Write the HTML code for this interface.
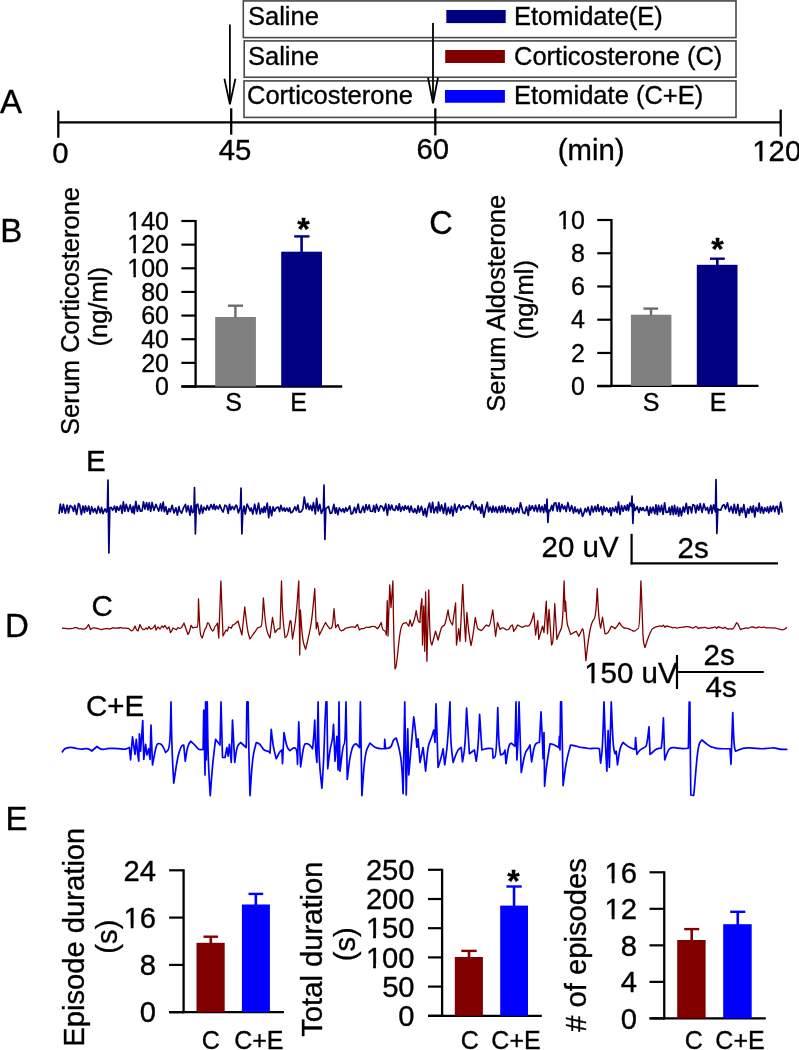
<!DOCTYPE html>
<html><head><meta charset="utf-8"><title>Figure</title>
<style>
html,body{margin:0;padding:0;background:#fff;width:799px;height:1050px;overflow:hidden;}
svg{display:block;will-change:transform;font-family:"Liberation Sans", sans-serif;}
text{stroke:#000;stroke-width:0.35px;}
</style></head><body>
<svg width="799" height="1050" viewBox="0 0 799 1050" font-family='"Liberation Sans", sans-serif' fill="#000">
<rect x="243.3" y="0.9" width="492.7" height="36.7" fill="none" stroke="#484848" stroke-width="1.6"/>
<rect x="244.2" y="40.9" width="491.8" height="36.35" fill="none" stroke="#484848" stroke-width="1.6"/>
<rect x="244" y="80.9" width="492" height="36.5" fill="none" stroke="#484848" stroke-width="1.6"/>
<text x="248" y="24.9" font-size="25.5" text-anchor="start">Saline</text>
<text x="248" y="64.8" font-size="25.5" text-anchor="start">Saline</text>
<text x="247" y="104.4" font-size="25.5" text-anchor="start">Corticosterone</text>
<rect x="446.3" y="10" width="59.4" height="13.1" fill="#000080"/>
<rect x="445.2" y="50" width="59.7" height="13" fill="#800000"/>
<rect x="445" y="90" width="59.9" height="12.75" fill="#0000ff"/>
<text x="514" y="24.9" font-size="25.5" text-anchor="start">Etomidate(E)</text>
<text x="514" y="64.8" font-size="25.5" text-anchor="start">Corticosterone (C)</text>
<text x="514" y="104.4" font-size="25.5" text-anchor="start">Etomidate (C+E)</text>
<line x1="229.9" y1="24.4" x2="229.9" y2="103.4" stroke="#000" stroke-width="1.8"/>
<path d="M224.4 78.7 L229.9 104.4 L235.4 78.7" fill="none" stroke="#000" stroke-width="1.8"/>
<line x1="433" y1="23" x2="433" y2="102.4" stroke="#000" stroke-width="1.8"/>
<path d="M428 77.5 L433 103.4 L438 77.5" fill="none" stroke="#000" stroke-width="1.8"/>
<line x1="58.3" y1="122.4" x2="780.7" y2="122.4" stroke="#000" stroke-width="2.3"/>
<line x1="58.3" y1="110.6" x2="58.3" y2="137.8" stroke="#000" stroke-width="2.3"/>
<line x1="231.2" y1="108.3" x2="231.2" y2="134.7" stroke="#000" stroke-width="2.3"/>
<line x1="435.3" y1="108.3" x2="435.3" y2="135.4" stroke="#000" stroke-width="2.3"/>
<line x1="780.7" y1="109.6" x2="780.7" y2="136.6" stroke="#000" stroke-width="2.3"/>
<text x="60.4" y="162.8" font-size="29.3" text-anchor="middle">0</text>
<text x="235" y="160.3" font-size="29.3" text-anchor="middle">45</text>
<text x="432.7" y="159.1" font-size="29.3" text-anchor="middle">60</text>
<text x="557.8" y="160.2" font-size="29.3" text-anchor="start">(min)</text>
<text x="752.3" y="160.9" font-size="29.3" text-anchor="start">120</text>
<text x="0" y="112.5" font-size="33" text-anchor="start">A</text>
<text x="0.2" y="242.3" font-size="33" text-anchor="start">B</text>
<line x1="195.6" y1="220" x2="195.6" y2="387.5" stroke="#000" stroke-width="2.3"/>
<line x1="181.4" y1="221" x2="195.6" y2="221" stroke="#000" stroke-width="2.2"/>
<text x="169" y="229.7" font-size="25" text-anchor="end">140</text>
<line x1="181.4" y1="244.64" x2="195.6" y2="244.64" stroke="#000" stroke-width="2.2"/>
<text x="169" y="253.34" font-size="25" text-anchor="end">120</text>
<line x1="181.4" y1="268.29" x2="195.6" y2="268.29" stroke="#000" stroke-width="2.2"/>
<text x="169" y="276.99" font-size="25" text-anchor="end">100</text>
<line x1="181.4" y1="291.93" x2="195.6" y2="291.93" stroke="#000" stroke-width="2.2"/>
<text x="169" y="300.63" font-size="25" text-anchor="end">80</text>
<line x1="181.4" y1="315.57" x2="195.6" y2="315.57" stroke="#000" stroke-width="2.2"/>
<text x="169" y="324.27" font-size="25" text-anchor="end">60</text>
<line x1="181.4" y1="339.21" x2="195.6" y2="339.21" stroke="#000" stroke-width="2.2"/>
<text x="169" y="347.91" font-size="25" text-anchor="end">40</text>
<line x1="181.4" y1="362.86" x2="195.6" y2="362.86" stroke="#000" stroke-width="2.2"/>
<text x="169" y="371.56" font-size="25" text-anchor="end">20</text>
<line x1="181.4" y1="386.5" x2="195.6" y2="386.5" stroke="#000" stroke-width="2.2"/>
<text x="169" y="395.2" font-size="25" text-anchor="end">0</text>
<line x1="181.4" y1="386.5" x2="342.2" y2="386.5" stroke="#000" stroke-width="2.3"/>
<rect x="215.2" y="317" width="40.7" height="69.5" fill="#808080"/>
<line x1="235.4" y1="305.7" x2="235.4" y2="318" stroke="#6c6c6c" stroke-width="2.4"/>
<line x1="228" y1="305.7" x2="243" y2="305.7" stroke="#6c6c6c" stroke-width="2.4"/>
<rect x="281.2" y="251.7" width="40.8" height="134.8" fill="#000080"/>
<line x1="301.6" y1="236.4" x2="301.6" y2="252" stroke="#000080" stroke-width="2.6"/>
<line x1="294.2" y1="236.4" x2="309.5" y2="236.4" stroke="#000080" stroke-width="2.4"/>
<text x="303.5" y="240.2" font-size="32" text-anchor="middle" font-weight="bold">*</text>
<text x="233.6" y="410.7" font-size="25" text-anchor="middle">S</text>
<text x="298.7" y="410.7" font-size="25" text-anchor="middle">E</text>
<text transform="translate(79.4 311) rotate(-90)" font-size="25.5" text-anchor="middle">Serum Corticosterone</text>
<text transform="translate(107.2 306.8) rotate(-90)" font-size="25.5" text-anchor="middle">(ng/ml)</text>
<text x="429.2" y="233.8" font-size="32.5" text-anchor="start">C</text>
<line x1="611.45" y1="219" x2="611.45" y2="386.8" stroke="#000" stroke-width="2.3"/>
<line x1="597.25" y1="220" x2="611.45" y2="220" stroke="#000" stroke-width="2.2"/>
<text x="585" y="228.7" font-size="25" text-anchor="end">10</text>
<line x1="597.25" y1="253.24" x2="611.45" y2="253.24" stroke="#000" stroke-width="2.2"/>
<text x="585" y="261.94" font-size="25" text-anchor="end">8</text>
<line x1="597.25" y1="286.48" x2="611.45" y2="286.48" stroke="#000" stroke-width="2.2"/>
<text x="585" y="295.18" font-size="25" text-anchor="end">6</text>
<line x1="597.25" y1="319.72" x2="611.45" y2="319.72" stroke="#000" stroke-width="2.2"/>
<text x="585" y="328.42" font-size="25" text-anchor="end">4</text>
<line x1="597.25" y1="352.96" x2="611.45" y2="352.96" stroke="#000" stroke-width="2.2"/>
<text x="585" y="361.66" font-size="25" text-anchor="end">2</text>
<line x1="597.25" y1="386.2" x2="611.45" y2="386.2" stroke="#000" stroke-width="2.2"/>
<text x="585" y="394.9" font-size="25" text-anchor="end">0</text>
<line x1="597.25" y1="385.9" x2="758.5" y2="385.9" stroke="#000" stroke-width="2.3"/>
<rect x="630.9" y="314.7" width="40.5" height="71.2" fill="#808080"/>
<line x1="651" y1="308.6" x2="651" y2="315.5" stroke="#6c6c6c" stroke-width="2.4"/>
<line x1="643.4" y1="308.6" x2="658.1" y2="308.6" stroke="#6c6c6c" stroke-width="2.4"/>
<rect x="696.8" y="264.8" width="40.7" height="121.1" fill="#000080"/>
<line x1="717.3" y1="258.7" x2="717.3" y2="265.5" stroke="#000080" stroke-width="2.6"/>
<line x1="710" y1="258.7" x2="724.8" y2="258.7" stroke="#000080" stroke-width="2.4"/>
<text x="717.6" y="260.1" font-size="32" text-anchor="middle" font-weight="bold">*</text>
<text x="651.1" y="410.7" font-size="25" text-anchor="middle">S</text>
<text x="718.1" y="410.7" font-size="25" text-anchor="middle">E</text>
<text transform="translate(505 303.2) rotate(-90)" font-size="25.5" text-anchor="middle">Serum Aldosterone</text>
<text transform="translate(533 299.8) rotate(-90)" font-size="25.5" text-anchor="middle">(ng/ml)</text>
<text x="4.9" y="636.8" font-size="33" text-anchor="start">D</text>
<text x="86" y="470.5" font-size="29.5" text-anchor="start">E</text>
<text x="91.5" y="616.2" font-size="29.5" text-anchor="start">C</text>
<text x="86" y="715.5" font-size="29.5" text-anchor="start">C+E</text>
<line x1="631.6" y1="533.8" x2="631.6" y2="564.4" stroke="#000" stroke-width="2.2"/>
<line x1="630.5" y1="563.4" x2="778" y2="563.4" stroke="#000" stroke-width="2.2"/>
<text x="541.5" y="557.2" font-size="29.5" text-anchor="start">20 uV</text>
<text x="677.5" y="557.5" font-size="29.5" text-anchor="start">2s</text>
<line x1="677" y1="655" x2="677" y2="689" stroke="#000" stroke-width="2.2"/>
<line x1="677" y1="672" x2="763.8" y2="672" stroke="#000" stroke-width="2.2"/>
<text x="584.2" y="683" font-size="29.5" text-anchor="start">150 uV</text>
<text x="703.5" y="665" font-size="29.5" text-anchor="start">2s</text>
<text x="705.5" y="697" font-size="29.5" text-anchor="start">4s</text>
<path d="M59.04 513.98 L60.37 504.14 L61.96 512.35 L63.38 504.37 L65.28 513.2 L67.15 505.23 L68.47 512.8 L70.08 505.65 L71.87 506.65 L73.51 511.34 L74.79 505.26 L76.62 514.3 L78.5 503.47 L79.63 504.86 L81.4 514.53 L82.9 506.01 L84.44 512.56 L85.45 505.85 L87.14 511.13 L88.75 506.08 L90.19 514.14 L91.7 506.73 L93.29 512.06 L94.92 508.45 L96.66 513.46 L98.27 506.32 L100.22 512.83 L101.54 507.33 L102.88 513.63 L105.01 508.96 L106.51 512.05 L107.4 508.05 L108 480 L108.9 553 L109.8 507.88 L111.19 507.39 L112.7 510.24 L114.61 506.11 L116.01 512.06 L117.04 506.56 L118.85 510.39 L120.67 505.27 L122.13 513.27 L123.36 501.9 L124.83 511.33 L126.25 504.43 L128.26 511.42 L130.15 504.89 L132.02 512.63 L133.22 506.26 L134.15 513.72 L135.87 501.28 L137.34 511.49 L138.84 505.34 L140.42 511.23 L142.05 510.88 L143.47 501.86 L144.96 509.15 L146.57 502.5 L147.98 509.81 L149.2 502.89 L150.67 511.47 L152.1 502.48 L153.94 510.41 L155.97 504.29 L156.85 506.59 L158.71 511.12 L160.56 503.89 L161.59 510.88 L163.23 502.17 L164.31 511.73 L165.8 506.76 L167.3 514.22 L169.01 508.6 L170.23 511.8 L172.13 505.35 L174.05 513.05 L175.88 507.79 L177.42 515.22 L178.89 506.52 L179.88 510.72 L181.64 513.15 L183.6 507.6 L185.48 504.34 L186.51 511.78 L188.12 505.85 L190.02 515.09 L191.09 505.96 L192.43 512.68 L193.9 511.55 L194.5 487.5 L195.4 534 L196.3 505.44 L197.71 504.07 L199.57 513.95 L201.29 505.21 L202.62 513.13 L204.12 507.23 L206.08 510.09 L207.21 505.47 L209.1 509.88 L211.05 504.58 L212.85 509.03 L214.02 504.26 L215.29 509.72 L216.51 506.08 L218.32 508.93 L219.86 504.93 L221.63 509.59 L223.07 512.11 L224.97 505.13 L226.64 506.18 L228.22 513.42 L229.5 504.28 L230.75 509.81 L232.3 506.41 L234.12 509.66 L235.63 505.42 L236.59 505.37 L238.38 512.87 L240.4 506.48 L241 488 L241.9 534 L242.8 512.66 L244.08 506.15 L245.25 514.14 L247.07 504.12 L248.44 506.82 L250.12 510.86 L251.28 507.93 L252.78 514.17 L254.66 504.23 L256.56 513.88 L258.56 503.03 L260.13 513.98 L261.75 508.26 L263.08 512.55 L264.18 506.62 L265.23 512.13 L267.29 503 L268.68 517.56 L270.06 506.65 L271.7 515.74 L273.04 506.77 L274.6 511.18 L276.43 507.65 L278.23 507.17 L279.6 511.55 L280.9 505.26 L282.54 510.74 L284.18 507.98 L285.2 511.25 L286.85 508.09 L288.42 511.37 L289.71 507.88 L290.84 512.83 L292.71 511.68 L294.85 506.77 L296.4 510.57 L297.93 505.03 L299.14 512.17 L301.23 511.67 L302.9 508.73 L304.28 497.19 L306.22 508.71 L307.69 503.37 L309.14 509.67 L310.59 505.45 L312.03 510.64 L313.46 502.55 L315.36 514.01 L316.63 498.29 L318.19 511.01 L319.81 504.34 L321.4 513.48 L322.45 510.95 L323.4 508.27 L324 485 L324.9 539.5 L325.8 508.56 L327.1 507.66 L328.55 506.52 L330.32 513.44 L331.94 512.62 L333.89 504.42 L335.31 513.18 L336.43 507.76 L337.82 514.7 L339.35 507.86 L341.49 511.52 L343.02 508.61 L344.34 512.45 L345.8 507.69 L347.11 511.12 L348.45 508.72 L349.7 505.99 L351.21 514.04 L352.67 513.54 L354.47 507.25 L356.07 512.77 L358.22 504.02 L359.55 512.24 L360.79 512.6 L363.02 506.4 L364.47 512.35 L365.95 504.59 L367.49 509.94 L369.19 504.94 L370.53 511.26 L372.64 511.39 L373.72 505.61 L375.14 512.25 L376.46 504.44 L378.59 511.13 L380.46 505.82 L382.17 506.43 L383.93 510.86 L385.73 503.93 L387.39 515.1 L388.73 504.66 L390.21 509.87 L391.71 505.11 L393.06 509.79 L394.81 510.46 L396.34 505.72 L398.06 510.16 L399.32 503.72 L400.68 511.34 L402.47 506.62 L404.03 510.28 L405.05 505.57 L406.67 509.17 L408.19 506.2 L409.53 512.13 L411.12 506.09 L412.47 511.25 L413.77 512.3 L414.71 508.54 L416.68 513.37 L418.15 505.74 L419.44 512.11 L421.51 506.39 L423.5 515.21 L425.03 508.5 L426.51 516.74 L427.79 508.56 L429.51 503.04 L430.92 512.35 L432.64 502.26 L434 512.9 L436.03 506.76 L437.46 512.82 L438.5 502.11 L440.01 510.97 L441.58 504.98 L443.53 513.18 L445.18 503.28 L446.49 514.72 L448.31 507.44 L449.94 513.46 L451.43 506.3 L452.92 515.81 L454.73 504.14 L456.4 512.18 L458.07 506.85 L459.35 504.81 L460.96 510.24 L462.68 505.84 L464.35 508.2 L466.14 506.1 L467.78 505.79 L469.8 508.87 L471.11 504.15 L472.72 501.49 L474 509.71 L475.72 504.48 L477.78 509.85 L479.41 507.02 L480.93 513.19 L481.91 504.81 L483.89 517.07 L485.85 507.71 L487.33 502.37 L488.58 511.86 L490.1 507.12 L491.95 512.29 L492.93 506.1 L494.52 511.8 L495.84 507.02 L497.34 512.67 L499.15 506.4 L500.56 512.28 L501.81 505.91 L502.91 511.8 L504.74 505.5 L506.08 512.6 L507.94 507.41 L509.37 512.12 L510.81 507.57 L512.63 513.99 L514.05 508.35 L515.8 512.44 L517.2 507.75 L518.84 512.73 L520.46 502.72 L521.87 508.33 L523.04 512.77 L524.75 513.56 L526.45 506.92 L528.29 515.44 L529.42 505.35 L530.45 510.12 L532.29 505.84 L534.2 511.07 L535.57 505.31 L537.28 511.74 L539.11 504.93 L540.42 511.86 L541.97 506.34 L543.62 512.53 L544.77 504.67 L546.4 511.89 L547 499 L547.9 522.5 L548.8 510.09 L550.05 510.94 L551.82 505.28 L552.87 510.6 L554.25 503.23 L555.76 502.72 L557.32 511.09 L558.96 502.83 L560.14 511.57 L561.82 504.34 L563.49 509.03 L564.74 506.07 L566.17 511.62 L567.89 502.63 L569.83 511.18 L571.68 505.62 L573.54 513.17 L574.92 506.96 L576.03 511.92 L577.77 509.13 L578.82 513.7 L580.62 508.43 L582.54 516.47 L583.87 513.15 L585.16 508.48 L586.51 511.92 L588.08 507.07 L590.08 514.93 L591.72 506.16 L593.23 512.06 L595.05 506.26 L596.34 511.47 L597.91 504.59 L599.07 511.39 L601.13 506.74 L602.57 514.69 L603.75 506.33 L605.33 511.46 L606.72 507.89 L608.52 512.18 L610.09 508 L610.94 515.73 L612.56 507.72 L614.44 511.42 L615.68 506.67 L617.12 512.55 L618.49 502.11 L620 514.42 L621.52 505.63 L623.15 511.2 L624.63 505.83 L626.22 510.32 L627.4 504.78 L628.56 510.72 L629.8 502.97 L631.4 506.26 L632 496 L632.9 523.5 L633.8 504.21 L635.13 510.48 L637.15 506.58 L638.95 512.52 L640.27 507.47 L641.73 510.25 L643.05 507.61 L644.38 510.72 L645.94 510.53 L646.98 506.29 L648.98 515.25 L650.31 507.23 L651.47 512.8 L653 507.12 L654.84 513.72 L655.95 504.83 L657.36 514.66 L658.49 505.34 L660.14 511.91 L661.57 505.41 L663.07 514.44 L664.59 502.93 L666.11 512.51 L668.02 512.1 L669.27 507.33 L670.39 514.56 L671.96 506.04 L673.34 514.59 L674.55 505.3 L675.88 514.14 L677.56 507.04 L678.64 516.2 L680 508.08 L681.43 515.94 L683.17 506.79 L684.47 512.13 L686.32 503.26 L687.98 513.96 L688.93 506.81 L690.28 506.87 L691.58 512.87 L692.87 504.66 L694.61 505.53 L695.82 512.96 L697.27 505.13 L698.83 510.2 L700.18 503.64 L702.06 512.34 L703.87 503.75 L705.78 510.16 L707.48 507.47 L708.6 513.4 L710.89 505.27 L711.92 513.28 L713.6 504.79 L715.4 511.87 L716 479.5 L716.9 533.5 L717.8 508.94 L719.4 510.01 L720.7 510.1 L722.7 505.43 L724.11 504.72 L725.47 509.06 L727.45 502.93 L729.3 511.64 L731.11 506.5 L732.99 513.02 L734.21 504.3 L736.1 513.2 L737.83 504.46 L739.51 515.4 L741.01 507.91 L742.41 512.62 L743.82 504.71 L745.89 517.27 L747.66 508.56 L748.92 513.29 L750.52 506.54 L752.03 512.44 L753.32 505.88 L754.77 516.98 L756.06 507.48 L757.83 511.47 L759.11 503.01 L760.44 512.8 L761.91 506.98 L763.49 513.35 L764.75 507.95 L766.44 511.43 L767.47 506.98 L768.75 512.8 L770.37 506.25 L771.31 511.51 L773.3 505.97 L774.83 511.74 L776.01 506.71 L777.25 506.28 L778.78 514.1 L780.66 502.03 L782.31 512.57" fill="none" stroke="#000080" stroke-width="1.7" stroke-linejoin="round"/>
<path d="M62 628 L63 628.22 Q64 628.45 65 628.42 L65 628.42 Q66 628.4 67 628.67 L67 628.67 Q68 628.93 69 628.72 L69 628.72 Q70 628.5 71 628.62 L71 628.62 Q72 628.74 73 628.27 L73 628.27 Q74 627.8 75.5 627.65 L75.5 627.65 Q77 627.5 78 628.22 L78 628.22 Q79 628.93 80 628.77 L80 628.77 Q81 628.6 82 628.94 L82 628.94 Q83 629.28 84 629.14 L84 629.14 Q85 629 85.88 628.3 L85.88 628.3 Q86.75 627.59 87.62 626.05 L88.5 624.5 L90.5 629.5 L91.62 628.65 Q92.75 627.81 93.88 627.9 L93.88 627.9 Q95 628 96 628.17 L96 628.17 Q97 628.33 98 628.57 L98 628.57 Q99 628.8 100 629.29 L100 629.29 Q101 629.79 102 629.39 L102 629.39 Q103 629 104 628.97 L104 628.97 Q105 628.95 106 628.62 L106 628.62 Q107 628.3 108 628.75 L108 628.75 Q109 629.2 110 628.85 L110 628.85 Q111 628.5 112 628.04 L112 628.04 Q113 627.58 114 627.89 L114 627.89 Q115 628.2 116 628.12 L116 628.12 Q117 628.04 118 628.02 L118 628.02 Q119 628 120 627.75 L120 627.75 Q121 627.49 122 627.79 L122 627.79 Q123 628.09 124 628.04 L124 628.04 Q125 628 126 628.2 L126 628.2 Q127 628.4 128 628.45 L128 628.45 Q129 628.5 129.75 629.43 L129.75 629.43 Q130.5 630.37 131.25 630.68 L131.25 630.68 Q132 631 132.75 630.2 L132.75 630.2 Q133.5 629.4 134.25 627.7 L135 626 L135.75 628 Q136.5 630 137.25 630.5 L138 631 L140 624.5 L140.75 626.25 Q141.5 628 142.25 628.75 L142.25 628.75 Q143 629.5 143.75 629.62 L143.75 629.62 Q144.5 629.74 145.25 628.87 L146 628 L147.5 629.13 L149 626.5 L150.5 629.17 L151.25 628.84 Q152 628.5 152.75 628.04 L152.75 628.04 Q153.5 627.57 154.25 626.29 L155 625 L156 630 L158 627 L160 629 L162 626 L163.5 627.47 L165 625.5 L167 629 L169 627 L170.5 632.5 L171.12 631.77 Q171.75 631.04 172.38 629.52 L173 628 L174 628.5 Q175 629 175.75 629.36 L176.5 629.71 L178 627.5 L178.75 628.01 Q179.5 628.53 180.25 628.26 L180.25 628.26 Q181 628 181.75 627.05 L181.75 627.05 Q182.5 626.1 183.25 624.55 L184 623 L185 626 Q186 629 187 631.75 L188 634.5 L188.75 633.16 Q189.5 631.82 190.25 628.66 L191 625.5 L193 628 L194 627.5 Q195 627 195.75 627.32 L195.75 627.32 Q196.5 627.64 197.25 627.07 L197.25 627.07 Q198 626.5 198.25 612.75 L198.5 599 L199.25 616.7 Q200 634.4 201.12 636.2 L202.25 638 L203.62 633.38 Q205 628.75 205.62 628.24 L205.62 628.24 Q206.25 627.74 206.88 625.34 L207.5 622.94 L208.12 622.97 Q208.75 623 209.62 625.5 L209.62 625.5 Q210.5 628 211.5 629.5 L212.5 631 L213.12 630.66 Q213.75 630.32 214.38 628.16 L214.38 628.16 Q215 626 215.62 625.75 L215.62 625.75 Q216.25 625.51 216.88 624.25 L217.5 623 L218.75 638 L220.9 581 L223 636 L226 630 L227.33 631.11 L228.67 626.98 L229.33 627.24 Q230 627.5 230.67 627.86 L231.33 628.22 L232.67 624.95 L233.33 624.97 Q234 625 236 623 L238 621 L241.9 635 L244.75 607 L246.12 619 Q247.5 631 248.75 635 L250 639 L252 636 Q254 633 254.88 632.07 L254.88 632.07 Q255.75 631.13 256.62 629.32 L256.62 629.32 Q257.5 627.5 258.62 627.32 L258.62 627.32 Q259.75 627.13 260.88 626.57 L260.88 626.57 Q262 626 262.7 612 L263.4 598 L264.7 614 Q266 630 268 634 L270 638 L272.5 617.5 L275 632.5 L276.5 630.5 Q278 628.5 279 628.62 L280 628.75 L281.5 581 L282 598 Q282.5 615 283.75 626.25 L285 637.5 L286.25 636.75 Q287.5 636 288.75 628.5 L290 621 L291 621 L292.5 639 L294.25 629 Q296 619 297.38 600 L298.75 581 L299.75 655 L300.4 610 L301.45 625 Q302.5 640 304.05 644.7 L305.6 649.4 L307.8 640.2 Q310 631 311.12 623.5 L311.12 623.5 Q312.25 616 313.5 602.38 L314.75 588.75 L316.25 628.75 L317.5 622.5 L319.4 635 L321.2 631.25 Q323 627.5 324.3 625 L325.6 622.5 L326.55 624.25 Q327.5 626 328.75 627.38 L330 628.75 L331.25 628.12 Q332.5 627.5 333.25 618.12 L334 608.75 L335.6 627.5 L338 624.4 L339 627.5 Q340 630.6 340.94 630.71 L340.94 630.71 Q341.88 630.82 342.81 630.39 L342.81 630.39 Q343.75 629.96 344.69 629.01 L344.69 629.01 Q345.62 628.06 346.56 627.91 L346.56 627.91 Q347.5 627.75 348.44 627.58 L348.44 627.58 Q349.38 627.41 350.31 627.18 L350.31 627.18 Q351.25 626.96 352.19 626.91 L352.19 626.91 Q353.12 626.85 354.06 627.18 L355 627.5 L357.5 624.4 L359.4 630 L360.21 629.32 Q361.02 628.63 361.83 628.62 L361.83 628.62 Q362.64 628.6 363.45 628.65 L363.45 628.65 Q364.26 628.71 365.07 627.86 L365.07 627.86 Q365.88 627.01 366.69 627.25 L366.69 627.25 Q367.5 627.5 368.54 627.47 L368.54 627.47 Q369.58 627.44 370.62 626.89 L370.62 626.89 Q371.67 626.34 372.71 626.3 L372.71 626.3 Q373.75 626.25 374.69 626.68 L374.69 626.68 Q375.62 627.12 376.56 627.93 L377.5 628.75 L378.44 627.51 Q379.38 626.26 380.31 624.38 L381.25 622.5 L381.88 626.25 Q382.5 630 384.05 630.5 L384.05 630.5 Q385.6 631 385.93 633 L386.25 635 L387.25 600.6 L388 636 L389.75 585 L391 607.5 L392.9 581 L393.32 609.25 Q393.75 637.5 394.38 653.12 L395 668.75 L395.62 668.12 Q396.25 667.5 398.12 649.25 L398.12 649.25 Q400 631 401.25 627.38 L401.25 627.38 Q402.5 623.75 403.44 623.42 L403.44 623.42 Q404.38 623.09 405.31 622.79 L406.25 622.5 L408.75 626.25 L410 620 L411.9 626.25 L413.15 623.12 Q414.4 620 415.32 615.3 L416.25 610.6 L417.12 615.92 Q418 621.25 419 621.88 L420 622.5 L420.3 615 Q420.6 607.5 421.25 603.12 L421.9 598.75 L422.5 645 L423.75 606 L424.75 651.25 L425.6 591.9 L426.9 661.25 L428.75 590 L429.38 615 Q430 640 430.95 642.5 L431.9 645 L435.6 631.25 L438.1 640 L439.68 633.75 Q441.25 627.5 442.19 626.69 L442.19 626.69 Q443.12 625.88 444.06 625.44 L444.06 625.44 Q445 625 446.55 617.5 L448.1 610 L448.75 615 Q449.4 620 450.95 622.5 L452.5 625 L455.6 603 L456.5 645 L458.75 628.75 L460 641.25 L462.75 584.4 L463.57 603.45 Q464.4 622.5 465 631.88 L465.6 641.25 L466.9 612.5 L467.82 622.5 Q468.75 632.5 469.88 639.05 L471 645.6 L472.05 640.3 Q473.1 635 474.18 626.25 L475.25 617.5 L476.38 623.12 Q477.5 628.75 478.44 629.19 L478.44 629.19 Q479.38 629.64 480.31 630.12 L481.25 630.6 L482.19 629.72 Q483.12 628.83 484.06 627.54 L484.06 627.54 Q485 626.25 485.83 625.6 L486.67 624.95 L488.33 626.37 L489.17 625.68 Q490 625 491.38 617.5 L492.75 610 L495.6 636.25 L497.5 622.5 L500 629.4 L500.94 628.6 Q501.88 627.8 502.81 627.95 L502.81 627.95 Q503.75 628.1 504.69 628.82 L504.69 628.82 Q505.62 629.55 506.56 629.77 L506.56 629.77 Q507.5 630 508.33 629.51 L508.33 629.51 Q509.17 629.02 510 627.36 L510 627.36 Q510.83 625.7 511.67 625.35 L512.5 625 L513.75 631.25 L514.69 629.98 Q515.62 628.7 516.56 626.85 L517.5 625 L518.33 625.28 Q519.17 625.57 520 626.19 L520 626.19 Q520.83 626.82 521.67 627.16 L521.67 627.16 Q522.5 627.5 523.54 626.8 L523.54 626.8 Q524.58 626.1 525.62 625.93 L525.62 625.93 Q526.67 625.76 527.71 626.01 L527.71 626.01 Q528.75 626.25 530 624.38 L530 624.38 Q531.25 622.5 532.5 617.75 L533.75 613 L535.6 635 L537.75 620.6 L538.75 639.4 L542.5 626.25 L544 632.5 L546.25 601.25 L547.5 633.75 L549 609.4 L551.5 645 L552.3 643.75 Q553.1 642.5 553.92 623.12 L554.75 603.75 L556.9 639.4 L558.15 635.95 Q559.4 632.5 560.95 629.38 L560.95 629.38 Q562.5 626.25 563.3 603.62 L564.1 581 L565 611.25 L565.6 601.25 L566.25 612.5 Q566.9 623.75 567.83 626.09 L567.83 626.09 Q568.75 628.44 569.67 631.42 L570.6 634.4 L572.17 633.45 Q573.75 632.5 575 631.88 L576.25 631.25 L578.75 636.25 L582.5 628.75 L583.12 630 Q583.75 631.25 584.83 645.92 L585.9 660.6 L587.33 648.42 Q588.75 636.25 590.33 628.75 L590.33 628.75 Q591.9 621.25 593.75 619.67 L593.75 619.67 Q595.6 618.1 596.42 603.3 L597.25 588.5 L598 603 Q598.75 617.5 599.67 622.8 L600.6 628.1 L602.5 617.25 L605 633.75 L605.94 633.74 Q606.88 633.74 607.81 632.82 L607.81 632.82 Q608.75 631.9 610 629.08 L611.25 626.25 L612.19 626.57 Q613.12 626.89 614.06 627.82 L615 628.75 L616.1 627.44 Q617.2 626.14 618.3 624.32 L619.4 622.5 L620.23 623.86 Q621.07 625.23 621.9 626.17 L621.9 626.17 Q622.73 627.12 623.57 627.61 L623.57 627.61 Q624.4 628.1 625.33 628.16 L625.33 628.16 Q626.27 628.22 627.2 628.45 L627.2 628.45 Q628.13 628.68 629.07 629.04 L629.07 629.04 Q630 629.4 630.83 629.73 L630.83 629.73 Q631.67 630.07 632.5 630.63 L632.5 630.63 Q633.33 631.18 634.17 631.22 L634.17 631.22 Q635 631.25 636.1 630.07 L636.1 630.07 Q637.2 628.89 638.3 628.5 L638.3 628.5 Q639.4 628.1 640.15 604.55 L640.9 581 L641.58 596.75 Q642.25 612.5 642.67 626.88 L642.67 626.88 Q643.1 641.25 644.05 644.38 L645 647.5 L646.5 642.75 Q648 638 650 633.35 L650 633.35 Q652 628.7 653 628.4 L653 628.4 Q654 628.1 655 627.3 L655 627.3 Q656 626.5 657 626.6 L657 626.6 Q658 626.69 659 626.2 L659 626.2 Q660 625.7 660.83 626.17 L660.83 626.17 Q661.67 626.64 662.5 625.92 L663.33 625.21 L665 627.24 L665.83 626.5 Q666.67 625.75 667.5 626.11 L667.5 626.11 Q668.33 626.46 669.17 626.73 L669.17 626.73 Q670 627 670.83 627.17 L670.83 627.17 Q671.67 627.34 672.5 627.7 L672.5 627.7 Q673.33 628.07 674.17 627.55 L674.17 627.55 Q675 627.03 675.83 627.67 L675.83 627.67 Q676.67 628.32 677.5 627.99 L677.5 627.99 Q678.33 627.67 679.17 627.69 L679.17 627.69 Q680 627.7 680.83 627.47 L680.83 627.47 Q681.67 627.24 682.5 627.2 L682.5 627.2 Q683.33 627.17 684.17 626.99 L684.17 626.99 Q685 626.8 685.83 626.66 L685.83 626.66 Q686.67 626.52 687.5 626.55 L687.5 626.55 Q688.33 626.58 689.17 626.89 L689.17 626.89 Q690 627.2 690.83 627.43 L690.83 627.43 Q691.67 627.66 692.5 628.01 L692.5 628.01 Q693.33 628.36 694.17 627.57 L694.17 627.57 Q695 626.77 695.83 626.7 L695.83 626.7 Q696.67 626.63 697.5 627.61 L698.33 628.59 L699.17 628.15 Q700 627.7 700.83 627.76 L700.83 627.76 Q701.67 627.82 702.5 627.71 L702.5 627.71 Q703.33 627.61 704.17 627.47 L704.17 627.47 Q705 627.32 705.83 627.71 L705.83 627.71 Q706.67 628.09 707.5 628.35 L707.5 628.35 Q708.33 628.6 709.17 628.3 L709.17 628.3 Q710 628 710.83 627.91 L710.83 627.91 Q711.67 627.83 712.5 627.75 L712.5 627.75 Q713.33 627.68 714.17 627.27 L715 626.86 L716.67 628.5 L718.33 626.65 L719.17 627.07 Q720 627.5 720.84 627.57 L720.84 627.57 Q721.69 627.64 722.53 628.06 L722.53 628.06 Q723.38 628.48 724.22 627.84 L725.06 627.21 L725.91 627.89 Q726.75 628.56 727.59 628.86 L727.59 628.86 Q728.44 629.15 729.28 628.91 L729.28 628.91 Q730.12 628.66 730.97 628.89 L730.97 628.89 Q731.81 629.13 732.66 628.91 L732.66 628.91 Q733.5 628.7 735 625.7 L736.5 622.7 L737.25 623.35 Q738 624 739.25 626.85 L740.5 629.7 L741.45 629.09 Q742.4 628.47 743.35 628.58 L743.35 628.58 Q744.3 628.69 745.25 628.18 L745.25 628.18 Q746.2 627.68 747.15 628.15 L747.15 628.15 Q748.1 628.63 749.05 628.06 L749.05 628.06 Q750 627.5 750.94 627.21 L750.94 627.21 Q751.88 626.93 752.82 627.01 L752.82 627.01 Q753.76 627.09 754.7 627.55 L754.7 627.55 Q755.64 628.02 756.58 627.79 L756.58 627.79 Q757.52 627.56 758.46 627.13 L758.46 627.13 Q759.4 626.7 760.28 627.28 L760.28 627.28 Q761.17 627.87 762.05 627.45 L762.05 627.45 Q762.93 627.04 763.82 627.18 L763.82 627.18 Q764.7 627.33 765.58 627.68 L765.58 627.68 Q766.47 628.03 767.35 627.88 L767.35 627.88 Q768.23 627.74 769.12 627.87 L769.12 627.87 Q770 628 770.91 627.88 L770.91 627.88 Q771.83 627.76 772.74 627.96 L772.74 627.96 Q773.65 628.16 774.56 627.99 L774.56 627.99 Q775.47 627.82 776.39 628.26 L776.39 628.26 Q777.3 628.7 778.3 628.83 L778.3 628.83 Q779.3 628.95 780.3 629.33 L780.3 629.33 Q781.3 629.7 782.23 629.79 L782.23 629.79 Q783.17 629.88 784.1 629.45 L784.1 629.45 Q785.03 629.02 785.97 628.16 L786.9 627.3" fill="none" stroke="#800000" stroke-width="1.3" stroke-linejoin="round"/>
<path d="M62 752.5 L63.25 750.5 Q64.5 748.5 67.25 747.85 L67.25 747.85 Q70 747.2 72.5 747.6 L72.5 747.6 Q75 748 78 748.75 L78 748.75 Q81 749.5 83.5 748.85 L83.5 748.85 Q86 748.2 88 748.85 L88 748.85 Q90 749.5 90.9 750.25 L91.8 751 L97 746.5 L99.25 748.25 Q101.5 750 104.25 749.25 L104.25 749.25 Q107 748.5 111 748.35 L111 748.35 Q115 748.2 118 748.6 L118 748.6 Q121 749 123 749.2 L123 749.2 Q125 749.4 127.2 748.45 L129.4 747.5 L130.6 760 L132.5 736.9 L135 754.4 L136.25 739.4 L136.88 745.95 Q137.5 752.5 138.12 756.88 L138.75 761.25 L139.4 733.75 L140.6 751.25 L142.75 720.6 L143.75 759.4 L145.6 744.4 L146.9 755 L148.75 748.75 L150 759.4 L151 725 L152.5 765 L154.38 755 Q156.25 745 157.5 744 L157.5 744 Q158.75 743 160.62 744 L160.62 744 Q162.5 745 164.05 748.75 L165.6 752.5 L167.8 750.3 Q170 748.1 170.5 725 L171 701.9 L171.45 725.33 Q171.9 748.75 172.82 765.92 L173.75 783.1 L175.62 770.3 Q177.5 757.5 179.38 751.55 L179.38 751.55 Q181.25 745.6 182.5 745.3 L183.75 745 L185.25 761.25 L186.38 753.75 Q187.5 746.25 189.05 743.75 L190.6 741.25 L192.8 743.12 Q195 745 196.88 747.5 L196.88 747.5 Q198.75 750 200.93 749.7 L203.1 749.4 L203.75 710 L205 775 L205.6 701.9 L206.25 760 L207.25 701.9 L207.68 730.95 Q208.1 760 209.18 777.8 L210.25 795.6 L211.38 780.3 Q212.5 765 214.05 752.2 L215.6 739.4 L220 745 L221 701.9 L222.5 757.5 L225 757.5 L226.9 747.5 L228.1 756.25 L229.4 744.4 L231.25 762.5 L232.5 720 L233.12 731.88 Q233.75 743.75 234.25 753.12 L234.75 762.5 L235.82 754.38 Q236.9 746.25 238.75 744.38 L240.6 742.5 L246.25 747.5 L246.9 701.9 L248.1 701.9 L248.43 724.08 Q248.75 746.25 249.38 770.92 L250 795.6 L251.25 776.55 Q252.5 757.5 254.38 750 L256.25 742.5 L258.12 743.12 Q260 743.75 261.88 747.17 L261.88 747.17 Q263.75 750.6 266.25 750.92 L266.25 750.92 Q268.75 751.25 269.38 752.17 L270 753.1 L271.25 729.4 L272.18 737.83 Q273.1 746.25 274.68 752.5 L276.25 758.75 L278.12 755 Q280 751.25 280.95 750.62 L281.9 750 L282.5 763.75 L284 732.5 L285.45 740 Q286.9 747.5 288.45 749.05 L290 750.6 L291.88 749.05 Q293.75 747.5 295.32 748.12 L295.32 748.12 Q296.9 748.75 297.2 756.58 L297.5 764.4 L298.75 721.9 L300.6 766.9 L302.18 755.95 Q303.75 745 305 744.05 L305 744.05 Q306.25 743.1 308.12 744.05 L308.12 744.05 Q310 745 311.25 746.88 L312.5 748.75 L313.12 743.12 Q313.75 737.5 314.25 728.75 L314.75 720 L315.18 735 Q315.6 750 316.25 756.25 L316.9 762.5 L318.1 701.9 L318.55 730.95 Q319 760 320.45 774.05 L321.9 788.1 L322.82 774.05 Q323.75 760 324.38 740 L324.38 740 Q325 720 325.5 710.95 L326 701.9 L326.9 701.9 L327.75 768.75 L328.88 758.75 Q330 748.75 331.25 744.38 L331.25 744.38 Q332.5 740 333 732.2 L333.5 724.4 L335 761.25 L336.9 736.25 L338.1 770 L339 701.9 L340 771.25 L341.55 758.12 Q343.1 745 344.05 744.38 L344.05 744.38 Q345 743.75 345.5 722.83 L346 701.9 L347.25 779.4 L348.62 767.83 Q350 756.25 351.55 750.62 L351.55 750.62 Q353.1 745 354.68 744.38 L356.25 743.75 L359.4 747.5 L360.4 701.9 L361.9 795.6 L363.45 774.05 Q365 752.5 367.5 747.8 L370 743.1 L372.5 745.3 Q375 747.5 377.5 748.12 L377.5 748.12 Q380 748.75 382.2 748.75 L384.4 748.75 L384.75 739.4 L385.6 748.75 L388.43 748.12 Q391.25 747.5 392.18 743.75 L392.18 743.75 Q393.1 740 394.68 739.05 L396.25 738.1 L397.82 743.42 Q399.4 748.75 400.65 756.88 L400.65 756.88 Q401.9 765 402.5 779.38 L403.1 793.75 L404.75 701.9 L406.25 795 L407.75 728.75 L408.75 775 L413.75 716.9 L414.68 724.08 Q415.6 731.25 416.25 739.38 L416.9 747.5 L418.1 738.75 L420 762.5 L423.1 747.5 L425.6 771.25 L426.85 758.12 Q428.1 745 429.68 741.88 L429.68 741.88 Q431.25 738.75 432.5 734.38 L433.75 730 L435 742.5 L436 703.75 L438.1 767.5 L439.68 762.5 Q441.25 757.5 442.18 753.12 L443.1 748.75 L444.75 765 L446.12 755 Q447.5 745 448.75 723.45 L450 701.9 L450.3 721.58 Q450.6 741.25 451.85 751.88 L453.1 762.5 L455.3 756.25 Q457.5 750 459.38 748.75 L461.25 747.5 L462.5 761.9 L463.75 754.7 Q465 747.5 465.8 727.8 L466.6 708.1 L469.4 753.75 L474.4 750 L476.25 761.25 L477.18 754.38 Q478.1 747.5 478.85 730.95 L479.6 714.4 L481.9 750 L484.7 749.05 Q487.5 748.1 490 748.42 L492.5 748.75 L493.1 758.1 L494.68 757.17 Q496.25 756.25 497 731.88 L497.75 707.5 L498.25 725 Q498.75 742.5 499.68 748.75 L500.6 755 L502.18 754.38 Q503.75 753.75 504.38 751.88 L505 750 L506 763.75 L507.38 754.38 Q508.75 745 510 744.05 L511.25 743.1 L515 746.25 L516 701.9 L516.9 760 L517.5 750 Q518.1 740 518.55 720.95 L519 701.9 L521.25 772.5 L523.12 762.5 Q525 752.5 526.55 750.62 L526.55 750.62 Q528.1 748.75 529.05 746.88 L530 745 L531.6 761.9 L533 753.45 Q534.4 745 535.95 743.75 L535.95 743.75 Q537.5 742.5 538.45 742.5 L539.4 742.5 L541 711.9 L541.75 727.2 Q542.5 742.5 542.8 750.62 L543.1 758.75 L544 732.5 L544.6 786.25 L545.42 776.88 Q546.25 767.5 548.12 755.62 L550 743.75 L551.88 744.08 Q553.75 744.4 556.25 745.95 L558.75 747.5 L559.4 736.25 L560 750 L560.6 701.9 L561.5 701.9 L563.1 785.6 L564.67 773.42 Q566.25 761.25 568.42 753.12 L570.6 745 L572.8 745.3 Q575 745.6 577.5 746.55 L577.5 746.55 Q580 747.5 582.5 747.62 L582.5 747.62 Q585 747.75 587.5 748.25 L587.5 748.25 Q590 748.75 593.12 748.42 L593.12 748.42 Q596.25 748.1 597.83 748.42 L599.4 748.75 L600.6 763.1 L601.55 755.92 Q602.5 748.75 603.25 725.33 L604 701.9 L604.8 725.33 Q605.6 748.75 606.25 760 L606.9 771.25 L608.1 730.6 L609.4 767.5 L611.25 701.9 L612.17 724.08 Q613.1 746.25 614.05 750 L615 753.75 L616.25 751.25 L617.5 765 L618.75 756.25 Q620 747.5 621.55 745 L623.1 742.5 L625.3 744.38 Q627.5 746.25 630 747.5 L630 747.5 Q632.5 748.75 633.75 749.08 L635 749.4 L635.6 737.5 L636.9 754.4 L638.45 751.9 Q640 749.4 642.5 748.45 L642.5 748.45 Q645 747.5 645.95 746.25 L645.95 746.25 Q646.9 745 647.95 735.95 L649 726.9 L650 754.4 L651.25 753.45 Q652.5 752.5 654.38 750.62 L654.38 750.62 Q656.25 748.75 658.75 748.42 L661.25 748.1 L661.75 744.05 Q662.25 740 662.83 728.88 L663.4 717.75 L664.75 760 L666.42 755 Q668.1 750 669.67 748.62 L669.67 748.62 Q671.25 747.25 674.38 747.67 L674.38 747.67 Q677.5 748.1 680.62 748.42 L680.62 748.42 Q683.75 748.75 686.08 748.48 L688.4 748.2 L689.2 702 L689.9 702 L690.1 727 Q690.3 752 690.55 773.5 L690.8 795 L693.6 795.5 L694.1 791.25 Q694.6 787 695.55 774.5 L695.55 774.5 Q696.5 762 697.62 752.88 L697.62 752.88 Q698.75 743.75 700.33 741.88 L701.9 740 L703.45 741.25 Q705 742.5 707.5 744.7 L707.5 744.7 Q710 746.9 711.88 747.2 L711.88 747.2 Q713.75 747.5 715.62 748.12 L715.62 748.12 Q717.5 748.75 723.75 748.75 L730 748.75 L731 764.4 L732.75 712.5 L733.38 729.38 Q734 746.25 734.8 748.75 L735.6 751.25 L739.05 749.67 Q742.5 748.1 747.5 747.92 L747.5 747.92 Q752.5 747.75 756.88 748.38 L756.88 748.38 Q761.25 749 764.62 748.6 L764.62 748.6 Q768 748.2 771.5 747.98 L771.5 747.98 Q775 747.75 777.5 748.58 L777.5 748.58 Q780 749.4 783.7 749.4 L787.4 749.4" fill="none" stroke="#0000ff" stroke-width="1.7" stroke-linejoin="round"/>
<text x="5.5" y="830.2" font-size="33" text-anchor="start">E</text>
<line x1="183.6" y1="869.3" x2="183.6" y2="1013.2" stroke="#000" stroke-width="2.3"/>
<line x1="169.1" y1="870.3" x2="183.6" y2="870.3" stroke="#000" stroke-width="2.2"/>
<text x="156" y="880.5" font-size="29.2" text-anchor="end">24</text>
<line x1="169.1" y1="917.6" x2="183.6" y2="917.6" stroke="#000" stroke-width="2.2"/>
<text x="156" y="927.8" font-size="29.2" text-anchor="end">16</text>
<line x1="169.1" y1="964.9" x2="183.6" y2="964.9" stroke="#000" stroke-width="2.2"/>
<text x="156" y="975.1" font-size="29.2" text-anchor="end">8</text>
<line x1="169.1" y1="1012.2" x2="183.6" y2="1012.2" stroke="#000" stroke-width="2.2"/>
<text x="156" y="1022.4" font-size="29.2" text-anchor="end">0</text>
<line x1="169.1" y1="1012.2" x2="283.9" y2="1012.2" stroke="#000" stroke-width="2.2"/>
<rect x="196.5" y="942.8" width="28.2" height="69.4" fill="#800000"/>
<line x1="210.8" y1="936.7" x2="210.8" y2="943.8" stroke="#800000" stroke-width="2.6"/>
<line x1="203.5" y1="936.7" x2="218.1" y2="936.7" stroke="#800000" stroke-width="2.4"/>
<rect x="241.9" y="904.5" width="28" height="107.7" fill="#0000ff"/>
<line x1="255.85" y1="893.9" x2="255.85" y2="905.5" stroke="#0000ff" stroke-width="2.6"/>
<line x1="248.5" y1="893.9" x2="263.2" y2="893.9" stroke="#0000ff" stroke-width="2.4"/>
<text x="210.8" y="1048.5" font-size="25" text-anchor="middle">C</text>
<text x="258.8" y="1048.5" font-size="25" text-anchor="middle">C+E</text>
<text transform="translate(84.4 937.2) rotate(-90)" font-size="29.2" text-anchor="middle">Episode duration</text>
<text transform="translate(116.9 936.65) rotate(-90)" font-size="29.2" text-anchor="middle">(s)</text>
<line x1="442.1" y1="868.8" x2="442.1" y2="1016.8" stroke="#000" stroke-width="2.3"/>
<line x1="428" y1="869.8" x2="442.1" y2="869.8" stroke="#000" stroke-width="2.2"/>
<text x="414.6" y="880" font-size="29.2" text-anchor="end">250</text>
<line x1="428" y1="899" x2="442.1" y2="899" stroke="#000" stroke-width="2.2"/>
<text x="414.6" y="909.2" font-size="29.2" text-anchor="end">200</text>
<line x1="428" y1="928.2" x2="442.1" y2="928.2" stroke="#000" stroke-width="2.2"/>
<text x="414.6" y="938.4" font-size="29.2" text-anchor="end">150</text>
<line x1="428" y1="957.4" x2="442.1" y2="957.4" stroke="#000" stroke-width="2.2"/>
<text x="414.6" y="967.6" font-size="29.2" text-anchor="end">100</text>
<line x1="428" y1="986.6" x2="442.1" y2="986.6" stroke="#000" stroke-width="2.2"/>
<text x="414.6" y="996.8" font-size="29.2" text-anchor="end">50</text>
<line x1="428" y1="1015.8" x2="442.1" y2="1015.8" stroke="#000" stroke-width="2.2"/>
<text x="414.6" y="1026" font-size="29.2" text-anchor="end">0</text>
<line x1="428" y1="1015.8" x2="541.8" y2="1015.8" stroke="#000" stroke-width="2.2"/>
<rect x="454.8" y="957" width="28.1" height="58.8" fill="#800000"/>
<line x1="469" y1="950.9" x2="469" y2="958" stroke="#800000" stroke-width="2.6"/>
<line x1="461.3" y1="950.9" x2="476.7" y2="950.9" stroke="#800000" stroke-width="2.4"/>
<rect x="500.2" y="905.6" width="27.8" height="110.2" fill="#0000ff"/>
<line x1="514.05" y1="886.5" x2="514.05" y2="906.6" stroke="#0000ff" stroke-width="2.6"/>
<line x1="506.4" y1="886.5" x2="521.7" y2="886.5" stroke="#0000ff" stroke-width="2.4"/>
<text x="469.8" y="1048.5" font-size="25" text-anchor="middle">C</text>
<text x="516" y="1048.5" font-size="25" text-anchor="middle">C+E</text>
<text transform="translate(322 949.1) rotate(-90)" font-size="29.2" text-anchor="middle">Total duration</text>
<text transform="translate(354.8 944.2) rotate(-90)" font-size="29.2" text-anchor="middle">(s)</text>
<text x="513.5" y="891.9" font-size="32" text-anchor="middle" font-weight="bold">*</text>
<line x1="664.25" y1="871.3" x2="664.25" y2="1019.4" stroke="#000" stroke-width="2.3"/>
<line x1="649.5" y1="872.3" x2="664.25" y2="872.3" stroke="#000" stroke-width="2.2"/>
<text x="637" y="882.5" font-size="29.2" text-anchor="end">16</text>
<line x1="649.5" y1="908.82" x2="664.25" y2="908.82" stroke="#000" stroke-width="2.2"/>
<text x="637" y="919.02" font-size="29.2" text-anchor="end">12</text>
<line x1="649.5" y1="945.35" x2="664.25" y2="945.35" stroke="#000" stroke-width="2.2"/>
<text x="637" y="955.55" font-size="29.2" text-anchor="end">8</text>
<line x1="649.5" y1="981.88" x2="664.25" y2="981.88" stroke="#000" stroke-width="2.2"/>
<text x="637" y="992.08" font-size="29.2" text-anchor="end">4</text>
<line x1="649.5" y1="1018.4" x2="664.25" y2="1018.4" stroke="#000" stroke-width="2.2"/>
<text x="637" y="1028.6" font-size="29.2" text-anchor="end">0</text>
<line x1="649.5" y1="1018.4" x2="765.8" y2="1018.4" stroke="#000" stroke-width="2.2"/>
<rect x="677.2" y="940" width="28.4" height="78.4" fill="#800000"/>
<line x1="691.7" y1="929.1" x2="691.7" y2="941" stroke="#800000" stroke-width="2.6"/>
<line x1="684.2" y1="929.1" x2="699.2" y2="929.1" stroke="#800000" stroke-width="2.4"/>
<rect x="723.2" y="924.2" width="28.5" height="94.2" fill="#0000ff"/>
<line x1="737.75" y1="911.8" x2="737.75" y2="925.2" stroke="#0000ff" stroke-width="2.6"/>
<line x1="730.2" y1="911.8" x2="745.3" y2="911.8" stroke="#0000ff" stroke-width="2.4"/>
<text x="693.8" y="1048.5" font-size="25" text-anchor="middle">C</text>
<text x="740" y="1048.5" font-size="25" text-anchor="middle">C+E</text>
<text transform="translate(585.8 945) rotate(-90)" font-size="29.2" text-anchor="middle"># of episodes</text>
<rect x="753.65" y="158" width="5.87" height="4" fill="#fff"/>
<rect x="762.41" y="158" width="5.79" height="4" fill="#fff"/>
<rect x="128.32" y="227" width="5.11" height="4" fill="#fff"/>
<rect x="135.93" y="227" width="5.06" height="4" fill="#fff"/>
<rect x="128.32" y="250" width="5.11" height="5" fill="#fff"/>
<rect x="135.93" y="250" width="5.06" height="5" fill="#fff"/>
<rect x="128.32" y="274" width="5.11" height="4" fill="#fff"/>
<rect x="135.93" y="274" width="5.06" height="4" fill="#fff"/>
<rect x="558.22" y="226" width="5.11" height="4" fill="#fff"/>
<rect x="565.84" y="226" width="5.06" height="4" fill="#fff"/>
<rect x="585.56" y="680" width="5.91" height="4" fill="#fff"/>
<rect x="594.38" y="680" width="5.83" height="4" fill="#fff"/>
<rect x="124.86" y="925" width="5.85" height="4" fill="#fff"/>
<rect x="133.59" y="925" width="5.78" height="4" fill="#fff"/>
<rect x="367.22" y="935" width="5.85" height="5" fill="#fff"/>
<rect x="375.95" y="935" width="5.78" height="5" fill="#fff"/>
<rect x="367.22" y="964" width="5.85" height="5" fill="#fff"/>
<rect x="375.95" y="964" width="5.78" height="5" fill="#fff"/>
<rect x="605.86" y="879" width="5.85" height="5" fill="#fff"/>
<rect x="614.59" y="879" width="5.78" height="5" fill="#fff"/>
<rect x="605.86" y="916" width="5.85" height="4" fill="#fff"/>
<rect x="614.59" y="916" width="5.78" height="4" fill="#fff"/>
</svg>
</body></html>
